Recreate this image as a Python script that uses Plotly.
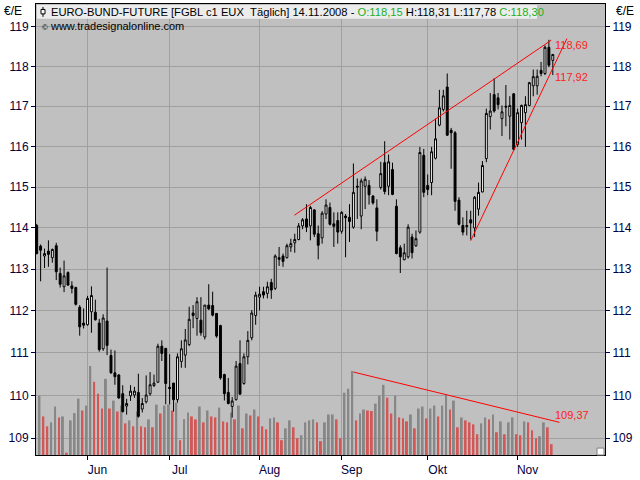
import math
import pandas as pd
import plotly.graph_objects as go

# ---------------- data ----------------
dates = pd.bdate_range("2008-05-14", "2008-11-14")  # trading days shown

open_ = [114.06, 113.56, 113.32, 113.44, 113.28, 113.57, 112.90, 112.58, 112.92, 112.60,
         112.56, 112.09, 111.71, 111.67, 111.98, 111.97, 111.71, 111.10, 111.76, 110.94,
         110.53, 110.48, 110.04, 109.75, 109.99, 110.01, 110.07, 109.68, 109.85, 110.04,
         110.23, 110.31, 111.16, 111.11, 110.19, 110.29, 109.90, 110.80, 110.95, 111.20,
         111.95, 111.82, 111.78, 111.38, 112.14, 112.13, 111.94, 111.65, 110.49, 110.07,
         109.74, 109.90, 110.75, 110.28, 110.91, 111.36, 111.89, 112.33, 112.46, 112.42,
         112.68, 112.54, 113.28, 113.32, 113.28, 113.54, 113.64, 113.72, 114.05, 114.22,
         114.05, 114.44, 113.86, 113.76, 114.34, 114.50, 114.10, 114.18, 113.92, 114.29,
         114.26, 114.02, 115.02, 114.29, 115.02, 115.04, 114.78, 114.49, 114.99, 115.60,
         115.02, 115.43, 114.53, 113.52, 113.23, 113.30, 113.78, 113.57, 113.90, 115.78,
         115.04, 115.11, 115.71, 116.53, 116.92, 117.48, 116.40, 116.34, 114.68, 114.06,
         114.06, 114.20, 114.00, 114.46, 114.88, 115.70, 116.74, 117.29, 117.21, 116.69,
         117.00, 116.75, 117.31, 116.05, 116.59, 116.84, 117.02, 117.51, 117.51, 117.90,
         117.82, 118.48, 118.15]
high = [114.10, 113.60, 113.50, 113.70, 113.50, 113.64, 113.04, 113.21, 112.95, 112.71,
        112.58, 112.14, 112.06, 112.36, 112.59, 112.27, 111.81, 111.92, 113.04, 111.08,
        111.06, 110.50, 110.24, 109.92, 110.24, 110.20, 110.51, 109.94, 110.47, 110.55,
        110.49, 111.22, 111.30, 111.11, 110.97, 110.29, 110.99, 111.30, 111.57, 112.10,
        112.14, 112.33, 112.33, 112.14, 112.64, 112.46, 111.95, 111.67, 110.51, 110.41,
        109.96, 110.81, 111.30, 110.99, 111.52, 112.02, 112.46, 112.58, 112.58, 112.70,
        112.77, 113.36, 113.54, 113.38, 113.62, 113.74, 113.86, 114.12, 114.24, 114.58,
        114.54, 114.46, 114.06, 114.41, 114.70, 114.62, 114.38, 114.38, 114.41, 114.34,
        114.58, 115.58, 115.21, 115.21, 115.26, 115.17, 114.80, 114.70, 115.62, 116.13,
        115.80, 115.60, 114.70, 113.58, 113.62, 114.09, 113.86, 113.94, 115.99, 115.94,
        115.31, 115.99, 116.69, 117.41, 117.41, 117.82, 116.46, 116.38, 114.75, 114.26,
        114.42, 114.42, 114.78, 115.11, 115.64, 116.94, 117.33, 117.70, 117.33, 117.02,
        117.53, 117.25, 117.33, 116.94, 117.04, 117.25, 117.61, 117.92, 117.92, 118.11,
        118.53, 118.67, 118.31]
low = [113.36, 112.71, 113.03, 113.06, 113.16, 112.74, 112.56, 112.45, 112.60, 112.42,
       112.13, 111.41, 111.58, 111.65, 111.48, 111.77, 111.03, 111.05, 110.95, 110.51,
       110.25, 109.92, 109.60, 109.55, 109.87, 109.94, 109.48, 109.60, 109.81, 109.99,
       110.20, 110.29, 110.81, 109.79, 109.79, 109.62, 109.83, 110.65, 110.65, 111.16,
       111.59, 111.41, 111.41, 111.32, 112.02, 111.87, 111.36, 110.37, 109.88, 109.79,
       109.48, 109.88, 110.01, 110.25, 110.73, 111.30, 111.67, 112.01, 112.30, 112.30,
       112.29, 112.50, 113.08, 113.06, 113.26, 113.42, 113.40, 113.70, 113.97, 113.90,
       113.70, 113.78, 113.24, 113.62, 114.22, 114.06, 113.54, 113.62, 113.86, 113.29,
       113.66, 113.98, 114.22, 113.97, 114.46, 114.57, 114.57, 113.68, 114.94, 114.82,
       114.80, 114.80, 113.36, 112.91, 113.22, 113.26, 113.26, 113.54, 113.86, 114.75,
       114.80, 114.80, 115.68, 116.50, 116.87, 116.26, 115.45, 114.42, 114.06, 113.82,
       113.82, 113.72, 113.78, 114.30, 114.87, 115.61, 116.42, 116.84, 116.92, 116.26,
       116.50, 116.17, 115.90, 115.99, 116.17, 115.99, 117.00, 117.25, 117.29, 117.75,
       117.78, 117.98, 117.78]
close = [113.38, 113.46, 113.38, 113.36, 113.48, 112.94, 112.64, 112.84, 112.62, 112.54,
         112.16, 111.62, 111.66, 112.30, 112.37, 111.79, 111.08, 111.83, 111.18, 110.53,
         110.44, 109.94, 109.62, 109.81, 110.10, 110.10, 109.51, 109.81, 110.01, 110.25,
         110.29, 111.16, 110.99, 110.28, 110.16, 109.90, 110.91, 111.10, 111.31, 111.80,
         111.89, 112.22, 111.48, 112.14, 112.05, 111.90, 111.40, 110.41, 110.04, 109.81,
         109.87, 110.69, 110.03, 110.91, 111.30, 111.95, 112.38, 112.40, 112.38, 112.58,
         112.50, 113.32, 113.24, 113.19, 113.57, 113.62, 113.72, 114.05, 114.20, 114.02,
         114.50, 113.85, 113.58, 114.36, 114.56, 114.09, 114.04, 113.90, 114.38, 114.25,
         114.16, 114.87, 115.00, 115.15, 115.19, 114.81, 114.61, 113.92, 115.33, 114.89,
         115.62, 114.82, 113.38, 113.30, 113.40, 114.02, 113.40, 113.74, 115.85, 114.87,
         114.94, 115.87, 116.19, 116.96, 117.26, 116.28, 116.34, 114.65, 114.09, 113.90,
         114.04, 114.12, 114.75, 114.87, 115.53, 116.82, 116.88, 116.88, 117.04, 116.86,
         116.98, 117.02, 115.93, 116.84, 117.02, 117.04, 117.59, 117.74, 117.75, 117.82,
         118.48, 118.03, 118.30]
# volume (thousand contracts, no scale shown); first bar hidden behind the frame
volume = [None, 1200, 780, 580, 660, 980, 760, 780, 46, 700,
          846, 1140, 900, 1000, 1800, 1480, 1240, 940, 1540, 940,
          1100, 880, 1000, 640, 700, 580, 880, 580, 560, 720,
          560, 1020, 840, 1000, 1020, 900, 1060, 300, 726, 860,
          780, 720, 980, 660, 900, 780, 760, 960, 680, 660,
          860, 720, 1000, 540, 840, 800, 920, 780, 580, 520,
          740, 760, 660, 300, 540, 700, 560, 340, 400, 660,
          700, 720, 660, 280, 660, 820, 820, 720, 340, 1260,
          1340, 1700, 700, 840, 920, 900, 890, 1040, 1200, 1420,
          1160, 840, 1200, 760, 740, 680, 820, 540, 940, 980,
          740, 940, 1000, 780, 1000, 1220, 920, 1100, 560, 760,
          700, 660, 620, 420, 640, 760, 720, 820, 460, 680,
          420, 660, 760, 420, 400, 680, 660, 500, 340, 380,
          660, 560, 220]

month_names = {6: "Jun", 7: "Jul", 8: "Aug", 9: "Sep", 10: "Okt", 11: "Nov"}
price_ticks = [109, 110, 111, 112, 113, 114, 115, 116, 117, 118, 119]

# trend lines (bar index, price)
upper_trend_x = [65.9, 131.6]
upper_trend_y = [114.31, 118.66]
lower_trend_x = [111.0, 135.6]
lower_trend_y = [113.69, 118.70]
volume_trend_x = [81.0, 133.7]
volume_trend_y = [110.55, 109.37]
trend_labels = ["118,69", "117,92", "109,37"]
trend_label_y = [118.53, 117.73, 109.54]
trend_label_x = 132.05

title_main = "EURO-BUND-FUTURE [FGBL c1 EUX\u00a0\u00a0Täglich] 14.11.2008 - "
title_o, title_h, title_l, title_c = "O:118,15", "H:118,31", "L:117,78", "C:118,30"
copyright_text = "www.tradesignalonline.com"
unit_text = "€/E"

# ---------------- styling ----------------
FONT = "Liberation Sans, Arial, sans-serif"
TICK_COLOR = "#000040"
GRAY = "#878787"
RED = "#D25858"
GREEN = "#1DB01D"

x = list(range(len(dates)))
tickvals = [i for i in range(1, len(dates)) if dates[i].month != dates[i - 1].month]
ticktext = [month_names[dates[i].month] for i in tickvals]

vol_colors = []
prev = None
for v in volume:
    if v is None:
        vol_colors.append("rgba(0,0,0,0)")
        continue
    vol_colors.append(GRAY if (prev is None or v >= prev) else RED)
    prev = v

lo, hi = math.log10(108.61), math.log10(119.58)

fig = go.Figure()
fig.add_trace(go.Bar(x=x, y=volume, marker=dict(color=vol_colors, line=dict(width=0)),
                     width=0.5, offset=-0.55, yaxis="y", hoverinfo="skip"))
fig.add_trace(go.Candlestick(
    x=x, open=open_, high=high, low=low, close=close, yaxis="y2",
    increasing=dict(line=dict(color="black", width=1), fillcolor="white"),
    decreasing=dict(line=dict(color="black", width=1), fillcolor="black"),
    whiskerwidth=0, hoverinfo="skip"))
for tx, ty in [(upper_trend_x, upper_trend_y), (lower_trend_x, lower_trend_y),
               (volume_trend_x, volume_trend_y)]:
    fig.add_trace(go.Scatter(x=tx, y=ty, mode="lines", yaxis="y2",
                             line=dict(color="#FF0000", width=1), hoverinfo="skip"))
fig.add_trace(go.Scatter(x=[x[0]], y=[close[0]], yaxis="y3", mode="markers",
                         marker=dict(opacity=0), hoverinfo="skip"))

annotations = []
for t, ty in zip(trend_labels, trend_label_y):
    annotations.append(dict(x=trend_label_x, y=math.log10(ty), xref="x", yref="y2", text=t,
                            showarrow=False, xanchor="left", yanchor="middle",
                            font=dict(family=FONT, size=11, color="#FF2020")))

def px(xp):
    return (xp - 36) / 569.0

def py(yp):
    return (459 - yp) / 456.0

title_html = (title_main + f'<span style="color:{GREEN}">{title_o}</span> {title_h} {title_l} '
              f'<span style="color:{GREEN}">{title_c}</span>')
annotations.append(dict(x=px(49), y=py(11), xref="paper", yref="paper", text=title_html,
                        showarrow=False, xanchor="left", yanchor="middle",
                        font=dict(family=FONT, size=11.2, color="black")))
annotations.append(dict(x=px(40), y=py(25), xref="paper", yref="paper",
                        text='<span style="font-size:8px">©</span> ' + copyright_text,
                        showarrow=False, xanchor="left", yanchor="middle",
                        font=dict(family=FONT, size=11, color="black")))
annotations.append(dict(x=px(13), y=py(10), xref="paper", yref="paper", text=unit_text,
                        showarrow=False, xanchor="center", yanchor="middle",
                        font=dict(family=FONT, size=12, color="black")))
annotations.append(dict(x=px(625), y=py(10), xref="paper", yref="paper", text=unit_text,
                        showarrow=False, xanchor="center", yanchor="middle",
                        font=dict(family=FONT, size=12, color="black")))

shapes = [
    dict(type="rect", xref="paper", yref="paper", x0=px(37), x1=px(537), y0=py(18), y1=py(4),
         fillcolor="#ECECEC", line=dict(width=0), layer="above"),
    dict(type="line", xref="paper", yref="paper", x0=px(43), x1=px(43), y0=py(16), y1=py(6),
         line=dict(color="black", width=1), layer="above"),
    dict(type="rect", xref="paper", yref="paper", x0=px(41), x1=px(45), y0=py(13), y1=py(8.5),
         fillcolor="white", line=dict(color="black", width=1), layer="above"),
    dict(type="rect", xref="paper", yref="paper", x0=px(597), x1=px(604), y0=py(459), y1=py(452),
         fillcolor="white", line=dict(color="#808080", width=1), layer="above"),
]

ytick_common = dict(type="log", range=[lo, hi], tickmode="array", tickvals=price_ticks,
                    ticktext=[str(v) for v in price_ticks], ticks="outside", ticklen=4,
                    tickcolor=TICK_COLOR, tickfont=dict(family=FONT, size=12, color=TICK_COLOR),
                    showline=True, linecolor="black", linewidth=1, zeroline=False,
                    fixedrange=True)

fig.update_layout(
    width=640, height=480,
    margin=dict(l=36, r=35, t=3, b=21, pad=0),
    paper_bgcolor="white", plot_bgcolor="#C0C0C0",
    showlegend=False, boxgap=0.3,
    font=dict(family=FONT, size=12, color=TICK_COLOR),
    xaxis=dict(range=[-0.18, 145.35], tickmode="array", tickvals=tickvals, ticktext=ticktext,
               showgrid=True, gridcolor="#A0A0A0", gridwidth=1, ticks="outside", ticklen=4,
               tickcolor="black", showline=True, linecolor="black", linewidth=1, mirror=True,
               zeroline=False, rangeslider=dict(visible=False), ticklabelshift=10,
               tickfont=dict(family=FONT, size=12, color=TICK_COLOR), fixedrange=True),
    yaxis=dict(range=[0, 9120], visible=False, fixedrange=True),
    yaxis2=dict(overlaying="y", side="left", anchor="x", showgrid=True, gridcolor="#A0A0A0",
                gridwidth=1, **ytick_common),
    yaxis3=dict(overlaying="y", side="right", anchor="x", showgrid=False, **ytick_common),
    annotations=annotations, shapes=shapes,
)

fig.write_html("out.html", config={"displayModeBar": False},
               post_script="document.body.style.margin='0';document.body.style.overflow='hidden';")
